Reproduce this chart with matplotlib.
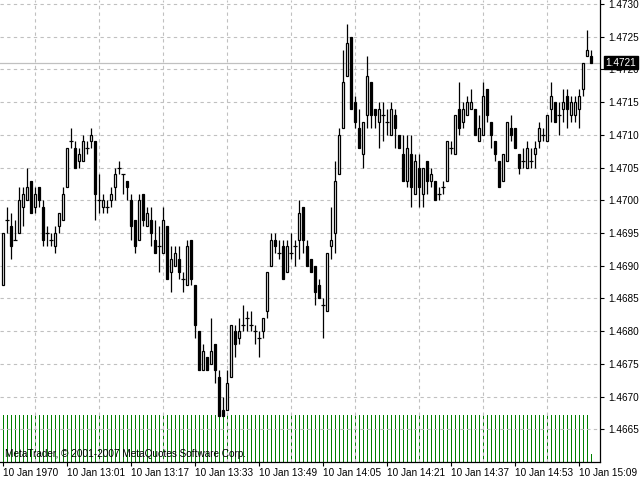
import numpy as np
import matplotlib.pyplot as plt

plt.rcParams['font.family'] = ['Liberation Sans', 'DejaVu Sans']

# EURUSD M1 bars, 10 Jan 12:45 .. 15:12
opens = [
    1.4687, 1.4697, 1.4696, 1.4694, 1.4695, 1.4699, 1.4700, 1.4703,
    1.4699, 1.4702, 1.4699, 1.4695, 1.4694, 1.4693, 1.4696, 1.4697,
    1.4702, 1.4709, 1.4708, 1.4706, 1.4706, 1.4708, 1.4709, 1.4709,
    1.4700, 1.4699, 1.4699, 1.4700, 1.4702, 1.4705, 1.4704, 1.4703,
    1.4700, 1.4697, 1.4694, 1.4701, 1.4696, 1.4697, 1.4694, 1.4693,
    1.4692, 1.4696, 1.4689, 1.4690, 1.4691, 1.4688, 1.4687, 1.4694,
    1.4687, 1.4680, 1.4674, 1.4676, 1.4675, 1.4678, 1.4673, 1.4668,
    1.4668, 1.4673, 1.4680, 1.4679, 1.4681, 1.4682, 1.4681, 1.4680,
    1.4679, 1.4680, 1.4683, 1.4690, 1.4694, 1.4692, 1.4693, 1.4689,
    1.4692, 1.4693, 1.4694, 1.4699, 1.4693, 1.4691, 1.4690, 1.4687,
    1.4684, 1.4683, 1.4693, 1.4695, 1.4704, 1.4711, 1.4719, 1.4725,
    1.4715, 1.4711, 1.4707, 1.4713, 1.4718, 1.4714, 1.4712, 1.4713,
    1.4712, 1.4710, 1.4713, 1.4710, 1.4707, 1.4703, 1.4707, 1.4701,
    1.4705, 1.4701, 1.4706, 1.4703, 1.4703, 1.4701, 1.4702, 1.4703,
    1.4708, 1.4707, 1.4714, 1.4712, 1.4713, 1.4714, 1.4714, 1.4709,
    1.4710, 1.4717, 1.4712, 1.4709, 1.4706, 1.4703, 1.4706, 1.4711,
    1.4711, 1.4707, 1.4706, 1.4705, 1.4706, 1.4707, 1.4709, 1.4710,
    1.4709, 1.4714, 1.4715, 1.4713, 1.4714, 1.4716, 1.4713, 1.4713,
    1.4714, 1.4717, 1.4722, 1.4722,
]
highs = [
    1.4695, 1.4699, 1.4698, 1.4697, 1.4702, 1.4702, 1.4705, 1.4703,
    1.4702, 1.4702, 1.4700, 1.4696, 1.4695, 1.4696, 1.4698, 1.4702,
    1.4708, 1.4711, 1.4709, 1.4708, 1.4710, 1.4709, 1.4711, 1.4709,
    1.4704, 1.4701, 1.4700, 1.4702, 1.4705, 1.4706, 1.4704, 1.4703,
    1.4701, 1.4697, 1.4701, 1.4701, 1.4699, 1.4699, 1.4697, 1.4696,
    1.4699, 1.4696, 1.4693, 1.4693, 1.4693, 1.4689, 1.4694, 1.4694,
    1.4687, 1.4680, 1.4678, 1.4676, 1.4682, 1.4678, 1.4674, 1.4670,
    1.4674, 1.4681, 1.4681, 1.4682, 1.4684, 1.4683, 1.4683, 1.4681,
    1.4680, 1.4682, 1.4689, 1.4695, 1.4695, 1.4694, 1.4694, 1.4694,
    1.4695, 1.4694, 1.4700, 1.4699, 1.4694, 1.4691, 1.4690, 1.4688,
    1.4685, 1.4692, 1.4699, 1.4706, 1.4711, 1.4723, 1.4727, 1.4725,
    1.4716, 1.4714, 1.4712, 1.4722, 1.4718, 1.4714, 1.4715, 1.4715,
    1.4714, 1.4715, 1.4714, 1.4710, 1.4710, 1.4710, 1.4710, 1.4707,
    1.4707, 1.4705, 1.4706, 1.4705, 1.4703, 1.4702, 1.4703, 1.4709,
    1.4709, 1.4713, 1.4718, 1.4715, 1.4716, 1.4717, 1.4714, 1.4713,
    1.4718, 1.4717, 1.4712, 1.4709, 1.4706, 1.4707, 1.4712, 1.4713,
    1.4711, 1.4707, 1.4708, 1.4709, 1.4708, 1.4709, 1.4712, 1.4711,
    1.4713, 1.4718, 1.4715, 1.4715, 1.4717, 1.4717, 1.4716, 1.4716,
    1.4717, 1.4721, 1.4726, 1.4723,
]
lows = [
    1.4687, 1.4695, 1.4691, 1.4694, 1.4695, 1.4696, 1.4700, 1.4698,
    1.4698, 1.4699, 1.4693, 1.4693, 1.4693, 1.4692, 1.4695, 1.4697,
    1.4702, 1.4708, 1.4705, 1.4705, 1.4706, 1.4707, 1.4708, 1.4697,
    1.4698, 1.4698, 1.4698, 1.4699, 1.4700, 1.4704, 1.4701, 1.4700,
    1.4694, 1.4692, 1.4694, 1.4696, 1.4696, 1.4693, 1.4692, 1.4689,
    1.4692, 1.4688, 1.4686, 1.4690, 1.4688, 1.4686, 1.4687, 1.4687,
    1.4679, 1.4674, 1.4674, 1.4674, 1.4675, 1.4672, 1.4667, 1.4667,
    1.4668, 1.4673, 1.4676, 1.4678, 1.4680, 1.4680, 1.4680, 1.4678,
    1.4676, 1.4679, 1.4682, 1.4690, 1.4692, 1.4691, 1.4688, 1.4689,
    1.4691, 1.4690, 1.4691, 1.4692, 1.4690, 1.4689, 1.4684, 1.4685,
    1.4679, 1.4683, 1.4691, 1.4692, 1.4704, 1.4711, 1.4719, 1.4714,
    1.4711, 1.4708, 1.4705, 1.4711, 1.4711, 1.4711, 1.4708, 1.4709,
    1.4710, 1.4710, 1.4708, 1.4708, 1.4703, 1.4702, 1.4699, 1.4701,
    1.4699, 1.4699, 1.4701, 1.4702, 1.4700, 1.4700, 1.4701, 1.4703,
    1.4707, 1.4707, 1.4710, 1.4711, 1.4713, 1.4714, 1.4710, 1.4709,
    1.4710, 1.4712, 1.4708, 1.4706, 1.4702, 1.4703, 1.4706, 1.4709,
    1.4708, 1.4704, 1.4705, 1.4705, 1.4705, 1.4705, 1.4708, 1.4709,
    1.4709, 1.4712, 1.4712, 1.4710, 1.4712, 1.4711, 1.4712, 1.4712,
    1.4711, 1.4716, 1.4722, 1.4721,
]
closes = [
    1.4695, 1.4697, 1.4693, 1.4694, 1.4700, 1.4701, 1.4702, 1.4698,
    1.4701, 1.4700, 1.4694, 1.4695, 1.4694, 1.4695, 1.4698, 1.4701,
    1.4708, 1.4709, 1.4705, 1.4707, 1.4709, 1.4708, 1.4710, 1.4701,
    1.4700, 1.4700, 1.4699, 1.4701, 1.4704, 1.4705, 1.4704, 1.4702,
    1.4696, 1.4693, 1.4700, 1.4697, 1.4698, 1.4695, 1.4692, 1.4693,
    1.4697, 1.4688, 1.4691, 1.4692, 1.4689, 1.4688, 1.4693, 1.4688,
    1.4681, 1.4674, 1.4677, 1.4674, 1.4677, 1.4674, 1.4667, 1.4667,
    1.4672, 1.4681, 1.4678, 1.4680, 1.4681, 1.4682, 1.4681, 1.4680,
    1.4679, 1.4682, 1.4689, 1.4694, 1.4693, 1.4692, 1.4688, 1.4693,
    1.4692, 1.4693, 1.4698, 1.4694, 1.4690, 1.4689, 1.4686, 1.4685,
    1.4684, 1.4692, 1.4694, 1.4703, 1.4710, 1.4718, 1.4724, 1.4714,
    1.4712, 1.4708, 1.4712, 1.4719, 1.4713, 1.4713, 1.4714, 1.4713,
    1.4712, 1.4714, 1.4711, 1.4708, 1.4703, 1.4708, 1.4702, 1.4706,
    1.4702, 1.4705, 1.4703, 1.4704, 1.4700, 1.4701, 1.4702, 1.4709,
    1.4708, 1.4713, 1.4711, 1.4714, 1.4715, 1.4715, 1.4710, 1.4711,
    1.4716, 1.4713, 1.4710, 1.4707, 1.4702, 1.4707, 1.4712, 1.4710,
    1.4708, 1.4705, 1.4706, 1.4708, 1.4706, 1.4708, 1.4711, 1.4710,
    1.4713, 1.4716, 1.4712, 1.4713, 1.4715, 1.4714, 1.4715, 1.4715,
    1.4716, 1.4721, 1.4723, 1.4721,
]
volumes = [
    6, 6, 6, 6, 6, 6, 6, 6, 6, 6, 6, 6, 6, 6, 6, 6,
    6, 6, 6, 6, 6, 6, 6, 6, 6, 6, 6, 6, 6, 6, 6, 6,
    6, 6, 6, 6, 6, 6, 6, 6, 6, 6, 6, 6, 6, 6, 6, 6,
    6, 6, 6, 6, 6, 6, 6, 6, 6, 6, 6, 6, 6, 6, 6, 6,
    6, 6, 6, 6, 6, 6, 6, 6, 6, 6, 6, 6, 6, 6, 6, 6,
    6, 6, 6, 6, 6, 6, 6, 6, 6, 6, 6, 6, 6, 6, 6, 6,
    6, 6, 6, 6, 6, 6, 6, 6, 6, 6, 6, 6, 6, 6, 6, 6,
    6, 6, 6, 6, 6, 6, 6, 6, 6, 6, 6, 6, 6, 6, 6, 6,
    6, 6, 6, 6, 6, 6, 6, 6, 6, 6, 6, 6, 6, 6, 6, 6,
    6, 6, 6, 1,
]
label_bars = [0, 16, 32, 48, 64, 80, 96, 112, 128, 144]
time_labels = ["10 Jan 1970", "10 Jan 13:01", "10 Jan 13:17", "10 Jan 13:33",
               "10 Jan 13:49", "10 Jan 14:05", "10 Jan 14:21", "10 Jan 14:37",
               "10 Jan 14:53", "10 Jan 15:09"]
price_ticks = [1.4665, 1.4670, 1.4675, 1.4680, 1.4685, 1.4690, 1.4695,
               1.4700, 1.4705, 1.4710, 1.4715, 1.4720, 1.4725, 1.4730]
last_price = 1.4721

o = np.array(opens)
h = np.array(highs)
l = np.array(lows)
c = np.array(closes)
x = np.arange(len(o))

fig = plt.figure(figsize=(6.4, 4.8), dpi=100)
ax = fig.add_axes([0, 18 / 480, 600 / 640, 462 / 480])
vax = ax.twinx()
ax.set_zorder(vax.get_zorder() + 1)
ax.patch.set_visible(False)

# volumes in the bottom strip
vax.vlines(x, 0, volumes, color="#008000", lw=0.72, antialiased=False)
vax.set_ylim(0, 59)
vax.set_yticks([])
for s in vax.spines.values():
    s.set_visible(False)

# candles
up = c > o
dn = c < o
dj = c == o
ax.vlines(x, l, h, color="black", lw=0.9, zorder=3)
ax.bar(x[up], (c - o)[up], bottom=o[up], width=0.55, color="white",
       edgecolor="black", lw=0.9, zorder=4)
ax.bar(x[dn], (o - c)[dn], bottom=c[dn], width=0.55, color="black",
       edgecolor="black", lw=0.9, zorder=4)
ax.hlines(o[dj], x[dj] - 0.4, x[dj] + 0.4, color="black", lw=0.9, zorder=4)

ax.axhline(last_price, color="#C0C0C0", lw=0.9, zorder=2)

ax.set_xlim(-0.75, 149.25)
ax.set_ylim(1.46600, 1.47306)

ax.set_xticks(label_bars)
ax.set_xticklabels(time_labels, fontsize=7.2)
for lbl in ax.get_xticklabels():
    lbl.set_ha("left")
ax.set_xticks(range(8, 145, 8), minor=True)
ax.tick_params(axis="x", which="major", length=3, width=0.8, pad=1.5)
ax.tick_params(axis="x", which="minor", length=0)

ax.yaxis.tick_right()
ax.set_yticks(price_ticks)
ax.set_yticklabels(["%.4f" % p for p in price_ticks], fontsize=7.2)
ax.tick_params(axis="y", length=3, width=0.8, pad=3)

ax.grid(True, axis="x", which="minor", color="#C0C0C0", ls=(0, (3, 3)), lw=0.8)
ax.grid(True, axis="y", which="major", color="#C0C0C0", ls=(0, (3, 3)), lw=0.8)
ax.set_axisbelow(True)

for side in ["top", "left"]:
    ax.spines[side].set_visible(False)
ax.spines["right"].set_linewidth(0.9)
ax.spines["bottom"].set_linewidth(0.9)

ax.annotate("%.4f" % last_price, xy=(1.0, last_price),
            xycoords=("axes fraction", "data"), xytext=(4, 0),
            textcoords="offset points", va="center", ha="left",
            fontsize=7.2, color="white",
            bbox=dict(boxstyle="square,pad=0.15", fc="black", ec="black"),
            annotation_clip=False, zorder=10)

ax.text(5 / 600, 8 / 462, "MetaTrader, \u00a9 2001-2007 MetaQuotes Software Corp.",
        transform=ax.transAxes, fontsize=7.2, va="center", ha="left", zorder=10)

fig.savefig("out.png", dpi=100)
